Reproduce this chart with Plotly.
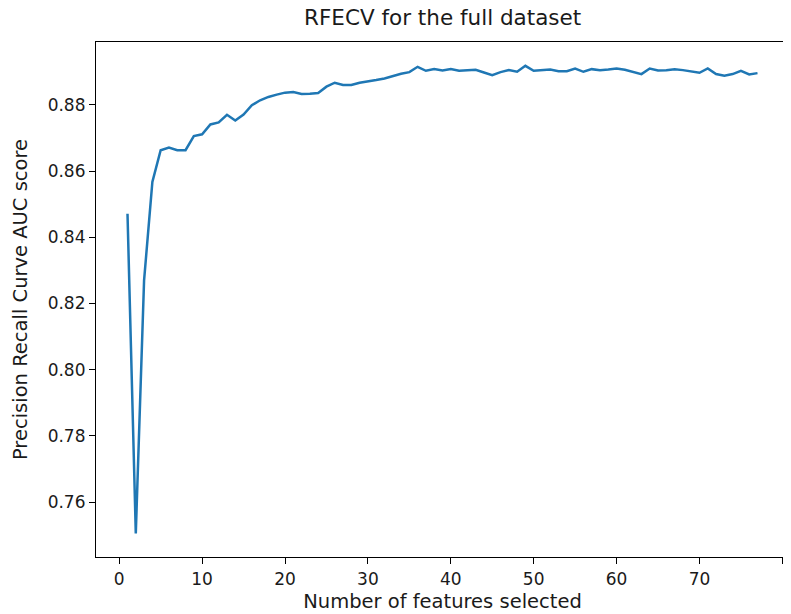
import plotly.graph_objects as go

n_features = list(range(1, 78))
scores = [
    0.8471, 0.7505, 0.8270, 0.8567, 0.8663, 0.8671, 0.8663, 0.8663, 0.8706, 0.8711,
    0.8741, 0.8747, 0.8770, 0.8753, 0.8771, 0.8799, 0.8814, 0.8824, 0.8831, 0.8837,
    0.8839, 0.8833, 0.8834, 0.8836, 0.8855, 0.8867, 0.8860, 0.8860, 0.8867, 0.8870,
    0.8875, 0.8880, 0.8888, 0.8894, 0.8899, 0.8915, 0.8903, 0.8908, 0.8904, 0.8908,
    0.8903, 0.8905, 0.8906, 0.8898, 0.8890, 0.8899, 0.8905, 0.8900, 0.8918, 0.8903,
    0.8904, 0.8907, 0.8902, 0.8902, 0.8910, 0.8900, 0.8908, 0.8905, 0.8907, 0.8910,
    0.8906, 0.8900, 0.8893, 0.8910, 0.8904, 0.8905, 0.8908, 0.8905, 0.8900, 0.8897,
    0.8910, 0.8893, 0.8888, 0.8893, 0.8903, 0.8892, 0.8896,
]
x_ticks = [0, 10, 20, 30, 40, 50, 60, 70, 80]
y_ticks = [0.76, 0.78, 0.80, 0.82, 0.84, 0.86, 0.88]

fig = go.Figure()
fig.add_trace(go.Scatter(
    x=n_features, y=scores, mode="lines",
    line=dict(color="#1f77b4", width=2.5),
    showlegend=False,
))

font = "DejaVu Sans"
# page has an 8px default body margin, so the figure is sized/offset to compensate
fig.update_layout(
    width=783, height=606,
    margin=dict(l=88, r=2, t=34, b=57),
    paper_bgcolor="white", plot_bgcolor="white",
    font=dict(family=font, size=17, color="#1a1a1a"),
)
fig.add_annotation(
    text="RFECV for the full dataset", xref="paper", yref="paper",
    x=0.5, y=1.047, xanchor="center", yanchor="middle", showarrow=False,
    font=dict(family=font, size=21.5, color="#1a1a1a"),
)
fig.update_xaxes(
    range=[-2.8, 80.8], tickvals=x_ticks, ticktext=[str(v) for v in x_ticks],
    showgrid=False, zeroline=False, showline=True, mirror=True, automargin=False,
    linecolor="black", linewidth=1.2, ticks="outside", ticklen=6, tickwidth=1.2,
    tickcolor="black", tickfont=dict(size=17),
    title=dict(text="Number of features selected", standoff=6, font=dict(size=19.5)),
)
fig.update_yaxes(
    range=[0.7434, 0.899], tickvals=y_ticks, ticktext=[f"{v:.2f}" for v in y_ticks],
    showgrid=False, zeroline=False, showline=True, mirror=True, automargin=False,
    linecolor="black", linewidth=1.2, ticks="outside", ticklen=6, tickwidth=1.2,
    tickcolor="black", tickfont=dict(size=17),
    title=dict(text="Precision Recall Curve AUC score", standoff=14, font=dict(size=19.5)),
)

fig.write_html("out.html")
